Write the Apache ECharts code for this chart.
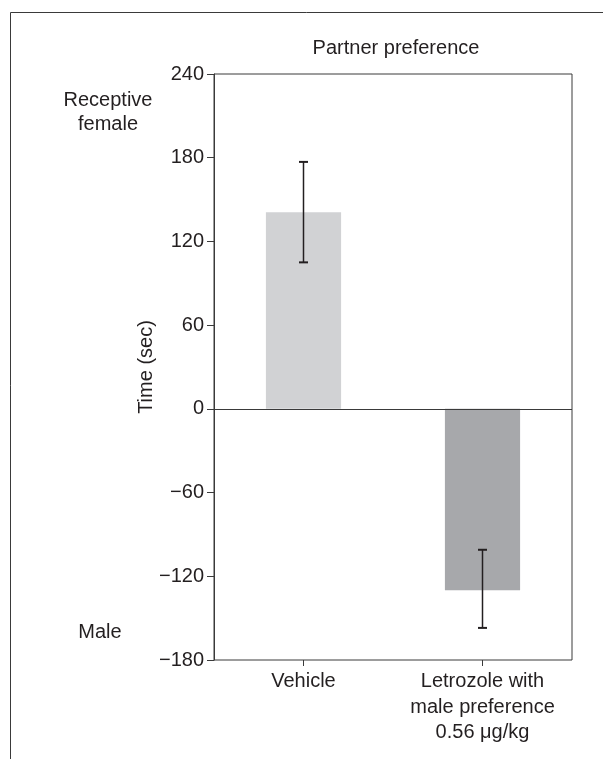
<!DOCTYPE html>
<html><head><meta charset="utf-8">
<script src="https://cdn.jsdelivr.net/npm/echarts@6/dist/echarts.min.js"></script>
<style>html,body{margin:0;padding:0;background:#fff}#c{width:603px;height:759px}</style>
</head><body><div id="c"></div>
<script>
const categories = ['Vehicle', 'Letrozole with\nmale preference\n0.56 \u03bcg/kg'];
const means = [141, -130];
const errLow = [105, -157];
const errHigh = [177, -101];
const barColors = ['#d1d2d4', '#a7a8ab'];

const FONT = '"Liberation Sans", Arial, sans-serif';
const FS = 20;
const TXT = '#231f20';
const chart = echarts.init(document.getElementById('c'));
chart.setOption({
  animation: false,
  title: { text: 'Partner preference', left: 391, top: 33, textAlign: 'center',
    textStyle: { fontFamily: FONT, fontSize: FS, fontWeight: 'normal', color: TXT } },
  grid: { left: 214, right: 31, top: 74, bottom: 99, show: true, borderColor: '#3a3a3a', borderWidth: 1 },
  xAxis: {
    type: 'category', data: categories, position: 'bottom',
    axisLine: { show: false, onZero: false },
    axisTick: { show: true, alignWithLabel: true, length: 6, lineStyle: { color: '#3a3a3a' } },
    axisLabel: { interval: 0, fontFamily: FONT, fontSize: FS, color: TXT, lineHeight: 25.5, margin: 9 }
  },
  yAxis: {
    type: 'value', min: -180, max: 240, interval: 60,
    name: 'Time (sec)', nameLocation: 'middle', nameGap: 58, nameMoveOverlap: false,
    nameTextStyle: { fontFamily: FONT, fontSize: FS, color: TXT },
    axisLine: { show: true, lineStyle: { color: '#3a3a3a' } },
    axisTick: { show: true, length: 7, lineStyle: { color: '#3a3a3a' } },
    axisLabel: { fontFamily: FONT, fontSize: FS, color: TXT, margin: 10,
      formatter: v => (v < 0 ? '\u2212' + Math.abs(v) : String(v)) },
    splitLine: { show: false }
  },
  series: [
    { type: 'bar', barWidth: '42%',
      data: means.map((v, i) => ({ value: v, itemStyle: { color: barColors[i] } })),
      markLine: { silent: true, symbol: 'none', label: { show: false },
        lineStyle: { color: '#3a3a3a', type: 'solid', width: 1 }, data: [{ yAxis: 0 }] } },
    { type: 'custom', z: 5,
      data: categories.map((c, i) => [i, errLow[i], errHigh[i]]),
      renderItem: function (params, api) {
        const lo = api.coord([api.value(0), api.value(1)]);
        const hi = api.coord([api.value(0), api.value(2)]);
        const w = 4.5;
        const st = { stroke: '#231f20', lineWidth: 1.5 };
        return { type: 'group', children: [
          { type: 'line', shape: { x1: lo[0], y1: lo[1], x2: hi[0], y2: hi[1] }, style: st },
          { type: 'line', shape: { x1: lo[0] - w, y1: lo[1], x2: lo[0] + w, y2: lo[1] }, style: { stroke: '#231f20', lineWidth: 2 } },
          { type: 'line', shape: { x1: hi[0] - w, y1: hi[1], x2: hi[0] + w, y2: hi[1] }, style: { stroke: '#231f20', lineWidth: 2 } }
        ]};
      } }
  ],
  graphic: [
    { type: 'polyline', shape: { points: [[10.5, 759], [10.5, 12.5], [603, 12.5]] },
      style: { stroke: '#3a3a3a', lineWidth: 1, fill: null } },
    { type: 'text', x: 108, y: 88, style: { text: 'Receptive\nfemale', fontFamily: FONT, fontSize: FS,
      fill: TXT, align: 'center', lineHeight: 24 } },
    { type: 'text', x: 100, y: 622, style: { text: 'Male', fontFamily: FONT, fontSize: FS, fill: TXT, align: 'center' } }
  ]
});
</script></body></html>
